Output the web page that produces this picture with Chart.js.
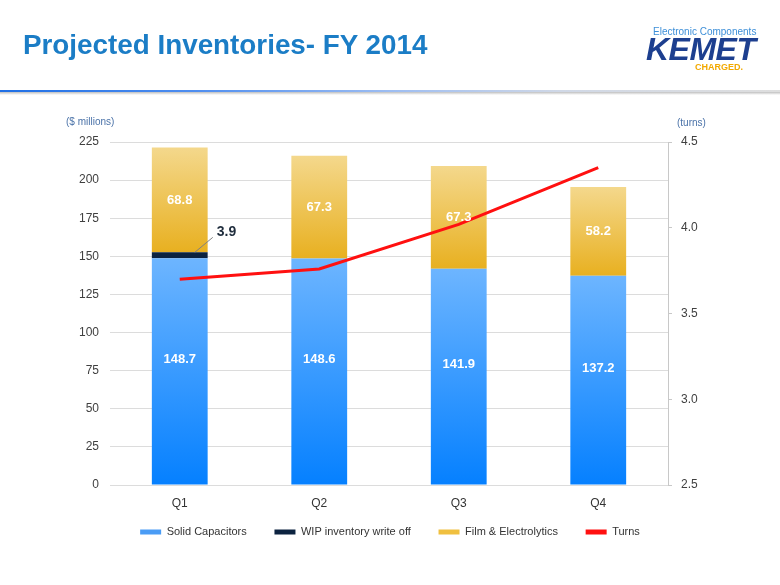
<!DOCTYPE html>
<html>
<head>
<meta charset="utf-8">
<script src="https://cdn.jsdelivr.net/npm/chart.js@4.4.0/dist/chart.umd.min.js"></script>
<style>
html,body{margin:0;padding:0;background:#fff;width:780px;height:585px;overflow:hidden;font-family:"Liberation Sans",Arial,sans-serif;}
#wrap{position:relative;width:780px;height:585px;}
#c{position:absolute;left:0;top:0;}
.abs{position:absolute;white-space:nowrap;line-height:1;}
#title{left:23px;top:32px;font-size:27px;font-weight:bold;color:#1b7dc6;transform:scaleX(1.03);transform-origin:0 0;}
#ec{left:653px;top:27px;font-size:10px;color:#3d8fd8;}
#kemet{left:646px;top:33px;font-size:32px;font-weight:bold;font-style:italic;color:#1d3f8f;letter-spacing:-0.5px;}
#charged{left:695px;top:63px;font-size:9px;font-weight:bold;color:#f2a900;}
#hline{left:0;top:90px;width:780px;height:2px;background:linear-gradient(to right,#1f6fe5 0%,#4f8ef0 25%,#9dbdf2 50%,#d0d8e6 72%,#dedede 100%);}
#hshadow{left:0;top:92px;width:780px;height:3px;background:linear-gradient(to bottom,rgba(140,140,140,0.55),rgba(210,210,210,0));}
#ylab{left:66px;top:117px;font-size:10px;color:#4a72a8;}
#y1lab{left:677px;top:118px;font-size:10px;color:#4a72a8;}
</style>
</head>
<body>
<div id="wrap">
<canvas id="c" width="780" height="585"></canvas>
<div class="abs" id="title">Projected Inventories- FY 2014</div>
<div class="abs" id="ec">Electronic Components</div>
<div class="abs" id="kemet">KEMET</div>
<div class="abs" id="charged">CHARGED.</div>
<div class="abs" id="hline"></div>
<div class="abs" id="hshadow"></div>
<div class="abs" id="ylab">($ millions)</div>
<div class="abs" id="y1lab">(turns)</div>
</div>
<script>
// ---- data ----
const categories = ['Q1', 'Q2', 'Q3', 'Q4'];
const solidCapacitors = [148.7, 148.6, 141.9, 137.2];
const wipWriteOff = [3.9, null, null, null];
const filmElectrolytics = [68.8, 67.3, 67.3, 58.2];
const turns = [3.70, 3.76, 4.02, 4.35];
const leftTicks = [0, 25, 50, 75, 100, 125, 150, 175, 200, 225];
const rightTicks = [2.5, 3.0, 3.5, 4.0, 4.5];
const seriesNames = ['Solid Capacitors', 'WIP inventory write off', 'Film & Electrolytics', 'Turns'];

const FONT = '"Liberation Sans", Arial, sans-serif';
Chart.defaults.font.family = FONT;
Chart.defaults.color = '#404040';

function vGrad(c, topColor, bottomColor, rangeFn) {
  const chart = c.chart;
  if (!chart.chartArea || c.type !== 'data' || !chart.scales.y) return bottomColor;
  const y = chart.scales.y;
  const r = rangeFn(c.dataIndex);
  const yTop = y.getPixelForValue(r[1]);
  const yBot = y.getPixelForValue(r[0]);
  if (!isFinite(yTop) || !isFinite(yBot) || yTop === yBot) return bottomColor;
  const g = chart.ctx.createLinearGradient(0, yTop, 0, yBot);
  g.addColorStop(0, topColor);
  g.addColorStop(1, bottomColor);
  return g;
}

const legendColors = ['#4a9cf5', '#0c2340', '#f0c040', '#ff1010'];

const labelPlugin = {
  id: 'valueLabels',
  afterDatasetsDraw(chart) {
    const ctx = chart.ctx;
    ctx.save();
    ctx.textAlign = 'center';
    ctx.textBaseline = 'middle';
    ctx.font = 'bold 13px ' + FONT;
    ctx.fillStyle = '#ffffff';
    [[0, solidCapacitors, -12], [2, filmElectrolytics, 0]].forEach(([di, vals, off]) => {
      const meta = chart.getDatasetMeta(di);
      meta.data.forEach((bar, i) => {
        const v = vals[i];
        if (v == null) return;
        ctx.fillText(v.toFixed(1), bar.x, (bar.y + bar.base) / 2 + off);
      });
    });
    const wm = chart.getDatasetMeta(1);
    wm.data.forEach((bar, i) => {
      const v = wipWriteOff[i];
      if (v == null) return;
      ctx.strokeStyle = '#808080';
      ctx.lineWidth = 1;
      ctx.beginPath();
      ctx.moveTo(bar.x + 15, bar.y);
      ctx.lineTo(bar.x + 33, bar.y - 15);
      ctx.stroke();
      ctx.fillStyle = '#1f2d3d';
      ctx.font = 'bold 14px ' + FONT;
      ctx.textAlign = 'left';
      ctx.fillText(v.toFixed(1), bar.x + 37, bar.y - 20);
    });
    ctx.restore();
  }
};

new Chart(document.getElementById('c'), {
  data: {
    labels: categories,
    datasets: [
      {
        type: 'bar', label: seriesNames[0], data: solidCapacitors, stack: 's', order: 1,
        backgroundColor: c => vGrad(c, '#6db5ff', '#0580ff', i => [0, solidCapacitors[i]]),
        borderWidth: 0
      },
      {
        type: 'bar', label: seriesNames[1], data: wipWriteOff, stack: 's', order: 1,
        backgroundColor: '#0c2340', borderWidth: 0
      },
      {
        type: 'bar', label: seriesNames[2], data: filmElectrolytics, stack: 's', order: 1,
        backgroundColor: c => vGrad(c, '#f4d88c', '#e8b020', i => {
          const b = solidCapacitors[i] + (wipWriteOff[i] || 0);
          return [b, b + filmElectrolytics[i]];
        }),
        borderWidth: 0
      },
      {
        type: 'line', label: seriesNames[3], data: turns, yAxisID: 'y1', order: 0,
        borderColor: '#ff1010', backgroundColor: '#ff1010', borderWidth: 3,
        pointRadius: 0, tension: 0, fill: false
      }
    ]
  },
  options: {
    responsive: false,
    animation: false,
    devicePixelRatio: 1,
    layout: { padding: { top: 142, left: 0, right: 0, bottom: 37.5 } },
    datasets: { bar: { categoryPercentage: 1.0, barPercentage: 0.4 } },
    scales: {
      x: {
        stacked: true,
        grid: { display: false, drawTicks: false },
        border: { display: false },
        ticks: { padding: 11, color: '#333333', font: { size: 12 } },
        afterFit: s => { s.height = 26; }
      },
      y: {
        stacked: true,
        position: 'left',
        min: 0, max: 225,
        afterBuildTicks: s => { s.ticks = leftTicks.map(v => ({ value: v })); },
        grid: { color: '#dcdcdc', drawTicks: false },
        border: { display: false },
        ticks: { padding: 11, color: '#404040', font: { size: 12 } },
        afterFit: s => { s.width = 110; }
      },
      y1: {
        position: 'right',
        min: 2.5, max: 4.5,
        afterBuildTicks: s => { s.ticks = rightTicks.map(v => ({ value: v })); },
        grid: { drawOnChartArea: false, drawTicks: true, tickLength: 4, color: '#c8c8c8' },
        border: { display: true, color: '#c8c8c8' },
        ticks: { padding: 9, color: '#404040', font: { size: 12 }, callback: v => Number(v).toFixed(1) },
        afterFit: s => { s.width = 112; }
      }
    },
    plugins: {
      title: { display: false },
      tooltip: { enabled: false },
      legend: {
        display: true,
        position: 'bottom',
        labels: {
          boxWidth: 21, boxHeight: 5, padding: 15.5,
          color: '#333333',
          font: { size: 11 },
          generateLabels: () => seriesNames.map((n, i) => ({
            text: i < seriesNames.length - 1 ? n + '    ' : n,
            fillStyle: legendColors[i], strokeStyle: legendColors[i],
            lineWidth: 0, hidden: false, datasetIndex: i, fontColor: '#333333'
          }))
        }
      }
    }
  },
  plugins: [labelPlugin]
});
</script>
</body>
</html>
